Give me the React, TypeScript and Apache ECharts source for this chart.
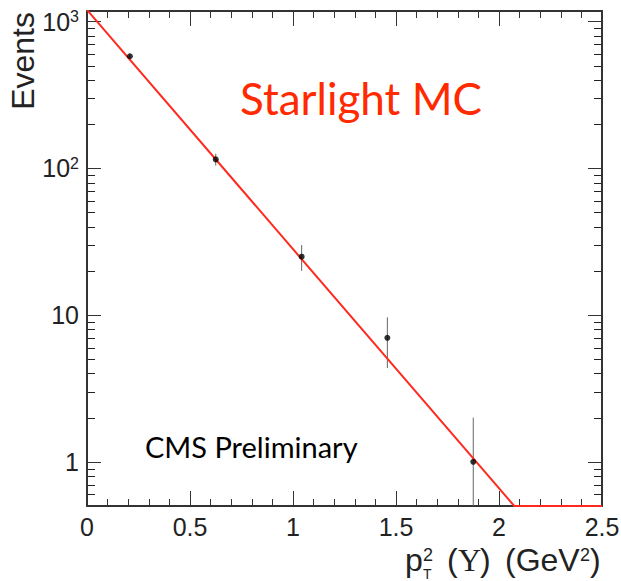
import React, { useEffect, useRef } from "react";
import * as echarts from "echarts";

const xMin = 0;
const xMax = 2.5;
const yMin = 0.5;
const yMax = 1180;

const binCenters = [0.208, 0.625, 1.042, 1.458, 1.875];
const counts = [580, 115, 25, 7, 1];
const errors = [24, 10.7, 5, 2.65, 1];

const fitX = [0, 2.074, 2.5];
const fitY = [1200, 0.5, 0.5];

const yMinorTicks = [0.6, 0.7, 0.8, 0.9, 2, 3, 4, 5, 6, 7, 8, 9, 20, 30, 40, 50, 60, 70, 80, 90, 200, 300, 400, 500, 600, 700, 800, 900];

const FRAME = "#333";
const LABEL_FONT = "Liberation Sans";

function yLabel(v: number): string {
  const e = Math.log10(v);
  const r = Math.round(e);
  if (Math.abs(e - r) > 1e-6) return "";
  if (r >= 2) return "10{sup|" + r + "}";
  return String(Math.round(v));
}

const yMinorSeries = {
  type: "custom",
  name: "yMinorTicks",
  xAxisIndex: 0,
  yAxisIndex: 0,
  silent: true,
  clip: false,
  data: yMinorTicks.map((v) => [xMax, v]),
  renderItem: (params: any, api: any) => {
    const pr = api.coord([xMax, api.value(1)]);
    const pl = api.coord([xMin, api.value(1)]);
    const y = Math.round(pr[1]);
    const xl = Math.round(pl[0]) + 1;
    const xr = Math.round(pr[0]) - 8;
    return {
      type: "group",
      children: [
        { type: "rect", shape: { x: xl, y, width: 7, height: 1 }, style: { fill: "#222" } },
        { type: "rect", shape: { x: xr, y, width: 7, height: 1 }, style: { fill: "#222" } },
      ],
    };
  },
  z: 10,
};

export default function App() {
  const ref = useRef<HTMLDivElement>(null);
  useEffect(() => {
    if (!ref.current) return;
    const chart = echarts.init(ref.current, undefined, { renderer: "svg" });
    const axisLine = { show: true, onZero: false, lineStyle: { color: FRAME, width: 2 } };
    const xTick = { show: true, inside: true, length: 15, lineStyle: { color: FRAME, width: 1 } };
    const xMinor = { show: true, splitNumber: 5, length: 7, lineStyle: { color: FRAME, width: 1 } };
    const yTick = { show: true, inside: true, length: 14, lineStyle: { color: FRAME, width: 1 } };
    const titleStyle = { fontFamily: LABEL_FONT, fill: "#222", align: "left", verticalAlign: "middle" };
    const option: any = {
      animation: false,
      backgroundColor: "#fff",
      grid: { left: 87, top: 11, right: 19, bottom: 75, outerBoundsMode: "none" },
      xAxis: [
        {
          type: "value",
          position: "bottom",
          min: xMin,
          max: xMax,
          interval: 0.5,
          axisLine,
          axisTick: xTick,
          minorTick: xMinor,
          splitLine: { show: false },
          axisLabel: {
            margin: 8,
            fontFamily: LABEL_FONT,
            fontSize: 25,
            color: "#222",
            formatter: (v: number) => String(v),
          },
        },
        {
          type: "value",
          position: "top",
          min: xMin,
          max: xMax,
          interval: 0.5,
          axisLine,
          axisTick: xTick,
          minorTick: xMinor,
          splitLine: { show: false },
          axisLabel: { show: false },
        },
      ],
      yAxis: [
        {
          type: "log",
          logBase: 10,
          position: "left",
          min: yMin,
          max: yMax,
          axisLine,
          axisTick: yTick,
          splitLine: { show: false },
          axisLabel: {
            margin: 8,
            fontFamily: LABEL_FONT,
            fontSize: 25,
            color: "#222",
            formatter: yLabel,
            rich: {
              sup: { fontFamily: LABEL_FONT, fontSize: 16, color: "#222", verticalAlign: "top", padding: [0, 0, 10, 0] },
            },
          },
        },
        {
          type: "log",
          logBase: 10,
          position: "right",
          min: yMin,
          max: yMax,
          axisLine,
          axisTick: yTick,
          splitLine: { show: false },
          axisLabel: { show: false },
        },
      ],
      series: [
        yMinorSeries,
        {
          type: "custom",
          name: "errors",
          xAxisIndex: 0,
          yAxisIndex: 0,
          silent: true,
          data: binCenters.map((x, i) => [x, Math.max(counts[i] - errors[i], yMin), counts[i] + errors[i]]),
          renderItem: (params: any, api: any) => {
            const x = api.value(0);
            const p1 = api.coord([x, api.value(1)]);
            const p2 = api.coord([x, api.value(2)]);
            return {
              type: "line",
              shape: { x1: p1[0], y1: p1[1], x2: p2[0], y2: p2[1] },
              style: { stroke: "#666", lineWidth: 1 },
            };
          },
          z: 4,
        },
        {
          type: "line",
          name: "fit",
          xAxisIndex: 0,
          yAxisIndex: 0,
          data: fitX.map((x, i) => [x, fitY[i]]),
          showSymbol: false,
          symbol: "none",
          lineStyle: { color: "#ff2a1f", width: 2 },
          clip: true,
          z: 5,
        },
        {
          type: "scatter",
          name: "data",
          xAxisIndex: 0,
          yAxisIndex: 0,
          data: binCenters.map((x, i) => [x, counts[i]]),
          symbol: "circle",
          symbolSize: 6,
          itemStyle: { color: "#000" },
          z: 6,
        },
      ],
      graphic: [
        {
          type: "text",
          x: 23,
          y: 12,
          rotation: Math.PI / 2,
          style: { text: "Events", fontFamily: LABEL_FONT, fontSize: 32, fill: "#222", align: "right", verticalAlign: "middle" },
        },
        {
          type: "text",
          x: 240,
          y: 98,
          style: { text: "Starlight MC", fontFamily: "Lato", fontSize: 44, fill: "#ff2a00", align: "left", verticalAlign: "middle" },
        },
        {
          type: "text",
          x: 145,
          y: 446,
          style: { text: "CMS Preliminary", fontFamily: "Lato", fontSize: 29, fill: "#000", align: "left", verticalAlign: "middle" },
        },
        { type: "text", x: 405, y: 560, style: { ...titleStyle, text: "p", fontSize: 32 } },
        { type: "text", x: 423, y: 555, style: { ...titleStyle, text: "2", fontSize: 18 } },
        { type: "text", x: 423, y: 574, style: { ...titleStyle, text: "T", fontSize: 14 } },
        { type: "text", x: 447, y: 560, style: { ...titleStyle, text: "(", fontSize: 32 } },
        { type: "text", x: 458, y: 560, style: { ...titleStyle, text: "Υ", fontFamily: "Liberation Serif", fontSize: 32 } },
        { type: "text", x: 480, y: 560, style: { ...titleStyle, text: ")", fontSize: 32 } },
        { type: "text", x: 505, y: 560, style: { ...titleStyle, text: "(GeV", fontSize: 32 } },
        { type: "text", x: 580, y: 555, style: { ...titleStyle, text: "2", fontSize: 18 } },
        { type: "text", x: 590, y: 560, style: { ...titleStyle, text: ")", fontSize: 32 } },
      ],
    };
    chart.setOption(option);
    return () => chart.dispose();
  }, []);
  return <div ref={ref} style={{ position: "absolute", left: 0, top: 0, width: 621, height: 581 }} />;
}
